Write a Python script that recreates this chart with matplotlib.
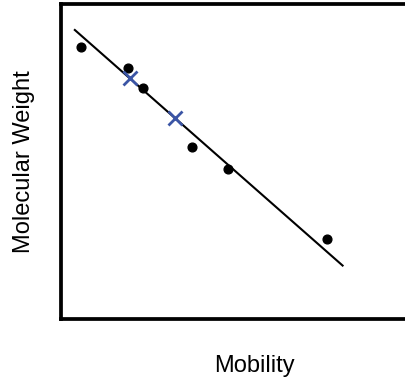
import matplotlib
matplotlib.use("Agg")
import matplotlib.pyplot as plt

plt.rcParams['font.family'] = ['Liberation Sans', 'DejaVu Sans']

# Standards (black dots)
std_mobility = [0.53, 1.75, 2.13, 3.40, 4.33, 6.87]
std_mw = [8.63, 7.98, 7.35, 5.45, 4.76, 2.52]

# Unknowns (blue crosses)
unk_mobility = [1.79, 2.95]
unk_mw = [7.64, 6.39]

# Fit line endpoints
fit_x = [0.37, 7.28]
fit_y = [9.18, 1.69]

fig = plt.figure(figsize=(4.05, 3.79), dpi=100)
ax = fig.add_axes([60.5 / 405, (379 - 318.7) / 379, (448 - 60.5) / 405, (318.7 - 4.2) / 379])

ax.plot(fit_x, fit_y, color='black', lw=1.5, zorder=2)
ax.plot(std_mobility, std_mw, 'o', color='black', ms=6.3, zorder=3)
ax.plot(unk_mobility, unk_mw, 'x', color='#3B55A5', ms=10.5, mew=2.0, zorder=4)

ax.set_xlim(0, 10)
ax.set_ylim(0, 10)
ax.set_xticks([])
ax.set_yticks([])
for s in ax.spines.values():
    s.set_linewidth(2.7)
    s.set_color('black')

ax.set_xlabel('Mobility', fontsize=17)
ax.set_ylabel('Molecular Weight', fontsize=17)
ax.xaxis.set_label_coords(0.5, (318.7 - 355) / 314.5)
ax.yaxis.set_label_coords((35 - 60.5) / 387.5, 0.5)

fig.savefig('out.png', dpi=100)
